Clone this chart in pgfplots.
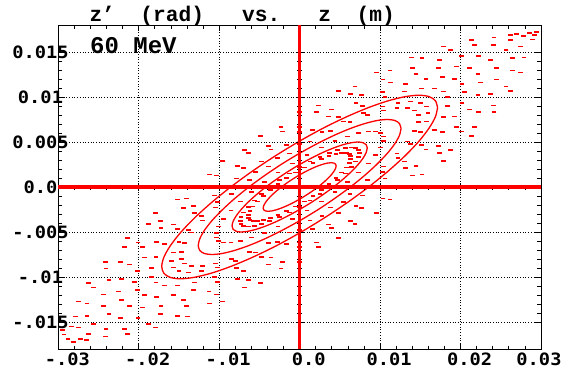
\documentclass[border=0pt]{standalone}
\usepackage{fontspec}
\usepackage{pgfplots}
\pgfplotsset{compat=1.18}
\newfontfamily\tickfontfam[FakeStretch=1.1]{DejaVu Sans Mono}
\newfontfamily\monofam{Liberation Mono}
\newcommand{\tickfont}{\tickfontfam\bfseries\fontsize{17}{17}\selectfont}
\newcommand{\titlefont}{\monofam\bfseries\fontsize{21.2}{22}\selectfont}
\newcommand{\mevfont}{\monofam\bfseries\fontsize{24}{25}\selectfont}
\begin{document}
\begin{tikzpicture}
\begin{axis}[
  name=main,
  scale only axis, width=482.7pt, height=324pt,
  xmin=-0.03, xmax=0.03, ymin=-0.018, ymax=0.018,
  xtick={-0.03,-0.02,-0.01,0,0.01,0.02,0.03},
  xticklabels={-.03,-.02,-.01,0.0,0.01,0.02,\hspace*{-22pt}0.03},
  ytick={-0.015,-0.01,-0.005,0,0.005,0.01,0.015},
  yticklabels={-.015,-.01,-.005,0.0,0.005,0.01,0.015},
  minor x tick num=4, minor y tick num=4,
  scaled ticks=false,
  tick align=inside,
  major tick length=6pt, minor tick length=3.5pt,
  tick style={black, line width=0.8pt},
  axis line style={black, line width=0.8pt},
  grid=major,
  major grid style={black, line width=0.7pt, dash pattern=on 0.7pt off 2pt},
  xticklabel style={font=\tickfont, xshift=9pt},
  yticklabel style={font=\tickfont, anchor=center, xshift=-17.8pt},
  sparse/.style={color=red, only marks, mark=-, mark size=2.4pt, mark options={draw=red, line width=1.7pt}},
  ring/.style={color=red, line width=1.3pt, smooth, mark=none},
]
% solid rings
\addplot[ring] coordinates {(4.536e-3,2.338e-3)(4.467e-3,2.068e-3)(4.262e-3,1.736e-3)(3.928e-3,1.350e-3)(3.475e-3,0.923e-3)(2.916e-3,0.469e-3)(2.268e-3,0)(1.551e-3,-0.469e-3)(0.787e-3,-0.923e-3)(0,-1.350e-3)(-0.787e-3,-1.736e-3)(-1.551e-3,-2.068e-3)(-2.268e-3,-2.338e-3)(-2.916e-3,-2.537e-3)(-3.475e-3,-2.659e-3)(-3.928e-3,-2.700e-3)(-4.262e-3,-2.659e-3)(-4.467e-3,-2.537e-3)(-4.536e-3,-2.338e-3)(-4.467e-3,-2.068e-3)(-4.262e-3,-1.736e-3)(-3.928e-3,-1.350e-3)(-3.475e-3,-0.923e-3)(-2.916e-3,-0.469e-3)(-2.268e-3,0)(-1.551e-3,0.469e-3)(-0.787e-3,0.923e-3)(0,1.350e-3)(0.787e-3,1.736e-3)(1.551e-3,2.068e-3)(2.268e-3,2.338e-3)(2.916e-3,2.537e-3)(3.475e-3,2.659e-3)(3.928e-3,2.700e-3)(4.262e-3,2.659e-3)(4.467e-3,2.537e-3)(4.536e-3,2.338e-3)};
\addplot[ring] coordinates {(8.40e-3,4.33e-3)(8.27e-3,3.83e-3)(7.89e-3,3.21e-3)(7.27e-3,2.50e-3)(6.43e-3,1.71e-3)(5.40e-3,0.87e-3)(4.20e-3,0)(2.87e-3,-0.87e-3)(1.46e-3,-1.71e-3)(0,-2.50e-3)(-1.46e-3,-3.21e-3)(-2.87e-3,-3.83e-3)(-4.20e-3,-4.33e-3)(-5.40e-3,-4.70e-3)(-6.43e-3,-4.92e-3)(-7.27e-3,-5.00e-3)(-7.89e-3,-4.92e-3)(-8.27e-3,-4.70e-3)(-8.40e-3,-4.33e-3)(-8.27e-3,-3.83e-3)(-7.89e-3,-3.21e-3)(-7.27e-3,-2.50e-3)(-6.43e-3,-1.71e-3)(-5.40e-3,-0.87e-3)(-4.20e-3,0)(-2.87e-3,0.87e-3)(-1.46e-3,1.71e-3)(0,2.50e-3)(1.46e-3,3.21e-3)(2.87e-3,3.83e-3)(4.20e-3,4.33e-3)(5.40e-3,4.70e-3)(6.43e-3,4.92e-3)(7.27e-3,5.00e-3)(7.89e-3,4.92e-3)(8.27e-3,4.70e-3)(8.40e-3,4.33e-3)};
\addplot[ring] coordinates {(12.60e-3,6.50e-3)(12.41e-3,5.75e-3)(11.84e-3,4.82e-3)(10.91e-3,3.75e-3)(9.65e-3,2.57e-3)(8.10e-3,1.30e-3)(6.30e-3,0)(4.31e-3,-1.30e-3)(2.19e-3,-2.57e-3)(0,-3.75e-3)(-2.19e-3,-4.82e-3)(-4.31e-3,-5.75e-3)(-6.30e-3,-6.50e-3)(-8.10e-3,-7.05e-3)(-9.65e-3,-7.39e-3)(-10.91e-3,-7.50e-3)(-11.84e-3,-7.39e-3)(-12.41e-3,-7.05e-3)(-12.60e-3,-6.50e-3)(-12.41e-3,-5.75e-3)(-11.84e-3,-4.82e-3)(-10.91e-3,-3.75e-3)(-9.65e-3,-2.57e-3)(-8.10e-3,-1.30e-3)(-6.30e-3,0)(-4.31e-3,1.30e-3)(-2.19e-3,2.57e-3)(0,3.75e-3)(2.19e-3,4.82e-3)(4.31e-3,5.75e-3)(6.30e-3,6.50e-3)(8.10e-3,7.05e-3)(9.65e-3,7.39e-3)(10.91e-3,7.50e-3)(11.84e-3,7.39e-3)(12.41e-3,7.05e-3)(12.60e-3,6.50e-3)};
\addplot[ring] coordinates {(17.14e-3,8.83e-3)(16.88e-3,7.81e-3)(16.10e-3,6.56e-3)(14.84e-3,5.10e-3)(13.13e-3,3.49e-3)(11.01e-3,1.77e-3)(8.57e-3,0)(5.86e-3,-1.77e-3)(2.97e-3,-3.49e-3)(0,-5.10e-3)(-2.97e-3,-6.56e-3)(-5.86e-3,-7.81e-3)(-8.57e-3,-8.83e-3)(-11.01e-3,-9.58e-3)(-13.13e-3,-10.04e-3)(-14.84e-3,-10.20e-3)(-16.10e-3,-10.04e-3)(-16.88e-3,-9.58e-3)(-17.14e-3,-8.83e-3)(-16.88e-3,-7.81e-3)(-16.10e-3,-6.56e-3)(-14.84e-3,-5.10e-3)(-13.13e-3,-3.49e-3)(-11.01e-3,-1.77e-3)(-8.57e-3,0)(-5.86e-3,1.77e-3)(-2.97e-3,3.49e-3)(0,5.10e-3)(2.97e-3,6.56e-3)(5.86e-3,7.81e-3)(8.57e-3,8.83e-3)(11.01e-3,9.58e-3)(13.13e-3,10.04e-3)(14.84e-3,10.20e-3)(16.10e-3,10.04e-3)(16.88e-3,9.58e-3)(17.14e-3,8.83e-3)};
% sparse rings
\addplot[sparse] coordinates {(6.36e-3,3.11e-3)(6.17e-3,2.69e-3)(5.79e-3,2.18e-3)(5.23e-3,1.61e-3)(4.51e-3,0.98e-3)(3.66e-3,0.33e-3)(2.70e-3,-0.33e-3)(1.65e-3,-0.98e-3)(0.56e-3,-1.61e-3)(-0.56e-3,-2.18e-3)(-1.65e-3,-2.69e-3)(-2.70e-3,-3.11e-3)(-3.66e-3,-3.44e-3)(-4.51e-3,-3.67e-3)(-5.23e-3,-3.79e-3)(-5.79e-3,-3.79e-3)(-6.17e-3,-3.67e-3)(-6.36e-3,-3.44e-3)(-6.36e-3,-3.11e-3)(-6.17e-3,-2.69e-3)(-5.79e-3,-2.18e-3)(-5.23e-3,-1.61e-3)(-4.51e-3,-0.98e-3)(-3.66e-3,-0.33e-3)(-2.70e-3,0.33e-3)(-1.65e-3,0.98e-3)(-0.56e-3,1.61e-3)(0.56e-3,2.18e-3)(1.65e-3,2.69e-3)(2.70e-3,3.11e-3)(3.66e-3,3.44e-3)(4.51e-3,3.67e-3)(5.23e-3,3.79e-3)(5.79e-3,3.79e-3)(6.17e-3,3.67e-3)(6.36e-3,3.44e-3)};
\addplot[sparse] coordinates {(7.39e-3,3.81e-3)(7.28e-3,3.37e-3)(6.95e-3,2.83e-3)(6.40e-3,2.20e-3)(5.66e-3,1.50e-3)(4.75e-3,0.76e-3)(3.70e-3,0)(2.53e-3,-0.76e-3)(1.28e-3,-1.50e-3)(0,-2.20e-3)(-1.28e-3,-2.83e-3)(-2.53e-3,-3.37e-3)(-3.70e-3,-3.81e-3)(-4.75e-3,-4.13e-3)(-5.66e-3,-4.33e-3)(-6.40e-3,-4.40e-3)(-6.95e-3,-4.33e-3)(-7.28e-3,-4.13e-3)(-7.39e-3,-3.81e-3)(-7.28e-3,-3.37e-3)(-6.95e-3,-2.83e-3)(-6.40e-3,-2.20e-3)(-5.66e-3,-1.50e-3)(-4.75e-3,-0.76e-3)(-3.70e-3,0)(-2.53e-3,0.76e-3)(-1.28e-3,1.50e-3)(0,2.20e-3)(1.28e-3,2.83e-3)(2.53e-3,3.37e-3)(3.70e-3,3.81e-3)(4.75e-3,4.13e-3)(5.66e-3,4.33e-3)(6.40e-3,4.40e-3)(6.95e-3,4.33e-3)(7.28e-3,4.13e-3)};
\addplot[sparse] coordinates {(10.38e-3,5.08e-3)(10.06e-3,4.38e-3)(9.44e-3,3.56e-3)(8.53e-3,2.62e-3)(7.36e-3,1.60e-3)(5.97e-3,0.54e-3)(4.40e-3,-0.54e-3)(2.70e-3,-1.60e-3)(0.91e-3,-2.62e-3)(-0.91e-3,-3.56e-3)(-2.70e-3,-4.38e-3)(-4.40e-3,-5.08e-3)(-5.97e-3,-5.62e-3)(-7.36e-3,-5.99e-3)(-8.53e-3,-6.18e-3)(-9.44e-3,-6.18e-3)(-10.06e-3,-5.99e-3)(-10.38e-3,-5.62e-3)(-10.38e-3,-5.08e-3)(-10.06e-3,-4.38e-3)(-9.44e-3,-3.56e-3)(-8.53e-3,-2.62e-3)(-7.36e-3,-1.60e-3)(-5.97e-3,-0.54e-3)(-4.40e-3,0.54e-3)(-2.70e-3,1.60e-3)(-0.91e-3,2.62e-3)(0.91e-3,3.56e-3)(2.70e-3,4.38e-3)(4.40e-3,5.08e-3)(5.97e-3,5.62e-3)(7.36e-3,5.99e-3)(8.53e-3,6.18e-3)(9.44e-3,6.18e-3)(10.06e-3,5.99e-3)(10.38e-3,5.62e-3)};
\addplot[sparse] coordinates {(14.73e-3,7.21e-3)(14.28e-3,6.22e-3)(13.40e-3,5.05e-3)(12.11e-3,3.72e-3)(10.45e-3,2.28e-3)(8.48e-3,0.77e-3)(6.25e-3,-0.77e-3)(3.83e-3,-2.28e-3)(1.29e-3,-3.72e-3)(-1.29e-3,-5.05e-3)(-3.83e-3,-6.22e-3)(-6.25e-3,-7.21e-3)(-8.48e-3,-7.98e-3)(-10.45e-3,-8.50e-3)(-12.11e-3,-8.77e-3)(-13.40e-3,-8.77e-3)(-14.28e-3,-8.50e-3)(-14.73e-3,-7.98e-3)(-14.73e-3,-7.21e-3)(-14.28e-3,-6.22e-3)(-13.40e-3,-5.05e-3)(-12.11e-3,-3.72e-3)(-10.45e-3,-2.28e-3)(-8.48e-3,-0.77e-3)(-6.25e-3,0.77e-3)(-3.83e-3,2.28e-3)(-1.29e-3,3.72e-3)(1.29e-3,5.05e-3)(3.83e-3,6.22e-3)(6.25e-3,7.21e-3)(8.48e-3,7.98e-3)(10.45e-3,8.50e-3)(12.11e-3,8.77e-3)(13.40e-3,8.77e-3)(14.28e-3,8.50e-3)(14.73e-3,7.98e-3)};
\addplot[sparse] coordinates {(15.96e-3,8.23e-3)(15.72e-3,7.28e-3)(15.00e-3,6.11e-3)(13.82e-3,4.75e-3)(12.23e-3,3.25e-3)(10.26e-3,1.65e-3)(7.98e-3,0)(5.46e-3,-1.65e-3)(2.77e-3,-3.25e-3)(0,-4.75e-3)(-2.77e-3,-6.11e-3)(-5.46e-3,-7.28e-3)(-7.98e-3,-8.23e-3)(-10.26e-3,-8.93e-3)(-12.23e-3,-9.36e-3)(-13.82e-3,-9.50e-3)(-15.00e-3,-9.36e-3)(-15.72e-3,-8.93e-3)(-15.96e-3,-8.23e-3)(-15.72e-3,-7.28e-3)(-15.00e-3,-6.11e-3)(-13.82e-3,-4.75e-3)(-12.23e-3,-3.25e-3)(-10.26e-3,-1.65e-3)(-7.98e-3,0)(-5.46e-3,1.65e-3)(-2.77e-3,3.25e-3)(0,4.75e-3)(2.77e-3,6.11e-3)(5.46e-3,7.28e-3)(7.98e-3,8.23e-3)(10.26e-3,8.93e-3)(12.23e-3,9.36e-3)(13.82e-3,9.50e-3)(15.00e-3,9.36e-3)(15.72e-3,8.93e-3)};
\addplot[sparse] coordinates {(18.41e-3,9.01e-3)(17.85e-3,7.78e-3)(16.75e-3,6.31e-3)(15.14e-3,4.65e-3)(13.07e-3,2.85e-3)(10.60e-3,0.96e-3)(7.81e-3,-0.96e-3)(4.78e-3,-2.85e-3)(1.61e-3,-4.65e-3)(-1.61e-3,-6.31e-3)(-4.78e-3,-7.78e-3)(-7.81e-3,-9.01e-3)(-10.60e-3,-9.97e-3)(-13.07e-3,-10.62e-3)(-15.14e-3,-10.96e-3)(-16.75e-3,-10.96e-3)(-17.85e-3,-10.62e-3)(-18.41e-3,-9.97e-3)(-18.41e-3,-9.01e-3)(-17.85e-3,-7.78e-3)(-16.75e-3,-6.31e-3)(-15.14e-3,-4.65e-3)(-13.07e-3,-2.85e-3)(-10.60e-3,-0.96e-3)(-7.81e-3,0.96e-3)(-4.78e-3,2.85e-3)(-1.61e-3,4.65e-3)(1.61e-3,6.31e-3)(4.78e-3,7.78e-3)(7.81e-3,9.01e-3)(10.60e-3,9.97e-3)(13.07e-3,10.62e-3)(15.14e-3,10.96e-3)(16.75e-3,10.96e-3)(17.85e-3,10.62e-3)(18.41e-3,9.97e-3)};
\addplot[sparse] coordinates {(20.50e-3,10.57e-3)(20.18e-3,9.35e-3)(19.26e-3,7.84e-3)(17.75e-3,6.10e-3)(15.70e-3,4.17e-3)(13.17e-3,2.12e-3)(10.25e-3,0)(7.01e-3,-2.12e-3)(3.56e-3,-4.17e-3)(0,-6.10e-3)(-3.56e-3,-7.84e-3)(-7.01e-3,-9.35e-3)(-10.25e-3,-10.57e-3)(-13.17e-3,-11.46e-3)(-15.70e-3,-12.01e-3)(-17.75e-3,-12.20e-3)(-19.26e-3,-12.01e-3)(-20.18e-3,-11.46e-3)(-20.50e-3,-10.57e-3)(-20.18e-3,-9.35e-3)(-19.26e-3,-7.84e-3)(-17.75e-3,-6.10e-3)(-15.70e-3,-4.17e-3)(-13.17e-3,-2.12e-3)(-10.25e-3,0)(-7.01e-3,2.12e-3)(-3.56e-3,4.17e-3)(0,6.10e-3)(3.56e-3,7.84e-3)(7.01e-3,9.35e-3)(10.25e-3,10.57e-3)(13.17e-3,11.46e-3)(15.70e-3,12.01e-3)(17.75e-3,12.20e-3)(19.26e-3,12.01e-3)(20.18e-3,11.46e-3)};
\addplot[sparse] coordinates {(22.51e-3,11.60e-3)(22.17e-3,10.26e-3)(21.15e-3,8.61e-3)(19.50e-3,6.70e-3)(17.24e-3,4.58e-3)(14.47e-3,2.33e-3)(11.26e-3,0)(7.70e-3,-2.33e-3)(3.91e-3,-4.58e-3)(0,-6.70e-3)(-3.91e-3,-8.61e-3)(-7.70e-3,-10.26e-3)(-11.26e-3,-11.60e-3)(-14.47e-3,-12.59e-3)(-17.24e-3,-13.20e-3)(-19.50e-3,-13.40e-3)(-21.15e-3,-13.20e-3)(-22.17e-3,-12.59e-3)(-22.51e-3,-11.60e-3)(-22.17e-3,-10.26e-3)(-21.15e-3,-8.61e-3)(-19.50e-3,-6.70e-3)(-17.24e-3,-4.58e-3)(-14.47e-3,-2.33e-3)(-11.26e-3,0)(-7.70e-3,2.33e-3)(-3.91e-3,4.58e-3)(0,6.70e-3)(3.91e-3,8.61e-3)(7.70e-3,10.26e-3)(11.26e-3,11.60e-3)(14.47e-3,12.59e-3)(17.24e-3,13.20e-3)(19.50e-3,13.40e-3)(21.15e-3,13.20e-3)(22.17e-3,12.59e-3)};
\addplot[sparse] coordinates {(24.43e-3,11.96e-3)(23.69e-3,10.32e-3)(22.23e-3,8.37e-3)(20.09e-3,6.17e-3)(17.34e-3,3.78e-3)(14.07e-3,1.27e-3)(10.37e-3,-1.27e-3)(6.35e-3,-3.78e-3)(2.14e-3,-6.17e-3)(-2.14e-3,-8.37e-3)(-6.35e-3,-10.32e-3)(-10.37e-3,-11.96e-3)(-14.07e-3,-13.23e-3)(-17.34e-3,-14.10e-3)(-20.09e-3,-14.55e-3)(-22.23e-3,-14.55e-3)(-23.69e-3,-14.10e-3)(-24.43e-3,-13.23e-3)(-24.43e-3,-11.96e-3)(-23.69e-3,-10.32e-3)(-22.23e-3,-8.37e-3)(-20.09e-3,-6.17e-3)(-17.34e-3,-3.78e-3)(-14.07e-3,-1.27e-3)(-10.37e-3,1.27e-3)(-6.35e-3,3.78e-3)(-2.14e-3,6.17e-3)(2.14e-3,8.37e-3)(6.35e-3,10.32e-3)(10.37e-3,11.96e-3)(14.07e-3,13.23e-3)(17.34e-3,14.10e-3)(20.09e-3,14.55e-3)(22.23e-3,14.55e-3)(23.69e-3,14.10e-3)(24.43e-3,13.23e-3)};
\addplot[sparse] coordinates {(26.44e-3,12.94e-3)(25.64e-3,11.17e-3)(24.06e-3,9.06e-3)(21.75e-3,6.68e-3)(18.77e-3,4.09e-3)(15.22e-3,1.38e-3)(11.22e-3,-1.38e-3)(6.87e-3,-4.09e-3)(2.31e-3,-6.68e-3)(-2.31e-3,-9.06e-3)(-6.87e-3,-11.17e-3)(-11.22e-3,-12.94e-3)(-15.22e-3,-14.32e-3)(-18.77e-3,-15.26e-3)(-21.75e-3,-15.74e-3)(-24.06e-3,-15.74e-3)(-25.64e-3,-15.26e-3)(-26.44e-3,-14.32e-3)(-26.44e-3,-12.94e-3)(-25.64e-3,-11.17e-3)(-24.06e-3,-9.06e-3)(-21.75e-3,-6.68e-3)(-18.77e-3,-4.09e-3)(-15.22e-3,-1.38e-3)(-11.22e-3,1.38e-3)(-6.87e-3,4.09e-3)(-2.31e-3,6.68e-3)(2.31e-3,9.06e-3)(6.87e-3,11.17e-3)(11.22e-3,12.94e-3)(15.22e-3,14.32e-3)(18.77e-3,15.26e-3)(21.75e-3,15.74e-3)(24.06e-3,15.74e-3)(25.64e-3,15.26e-3)(26.44e-3,14.32e-3)};
\addplot[sparse] coordinates {(27.89e-3,14.38e-3)(27.46e-3,12.72e-3)(26.21e-3,10.67e-3)(24.15e-3,8.30e-3)(21.36e-3,5.68e-3)(17.93e-3,2.88e-3)(13.94e-3,0)(9.54e-3,-2.88e-3)(4.84e-3,-5.68e-3)(0,-8.30e-3)(-4.84e-3,-10.67e-3)(-9.54e-3,-12.72e-3)(-13.94e-3,-14.38e-3)(-17.93e-3,-15.60e-3)(-21.36e-3,-16.35e-3)(-24.15e-3,-16.60e-3)(-26.21e-3,-16.35e-3)(-27.46e-3,-15.60e-3)(-27.89e-3,-14.38e-3)(-27.46e-3,-12.72e-3)(-26.21e-3,-10.67e-3)(-24.15e-3,-8.30e-3)(-21.36e-3,-5.68e-3)(-17.93e-3,-2.88e-3)(-13.94e-3,0)(-9.54e-3,2.88e-3)(-4.84e-3,5.68e-3)(0,8.30e-3)(4.84e-3,10.67e-3)(9.54e-3,12.72e-3)(13.94e-3,14.38e-3)(17.93e-3,15.60e-3)(21.36e-3,16.35e-3)(24.15e-3,16.60e-3)(26.21e-3,16.35e-3)(27.46e-3,15.60e-3)};
% corner clusters
\addplot[sparse] coordinates {(27.0e-3,17.0e-3)(27.8e-3,16.8e-3)(28.6e-3,17.1e-3)(29.2e-3,16.9e-3)(28.9e-3,16.4e-3)(26.2e-3,16.9e-3)(29.4e-3,17.2e-3)(-28.8e-3,-16.9e-3)(-29.3e-3,-16.4e-3)(-28.1e-3,-17.2e-3)(-27.2e-3,-16.9e-3)(-29.5e-3,-15.9e-3)(-28.4e-3,-15.5e-3)(-26.5e-3,-17.0e-3)};
\end{axis}
\begin{axis}[
  at={(main.south west)}, anchor=south west,
  scale only axis, width=482.7pt, height=324pt,
  xmin=-0.03, xmax=0.03, ymin=-0.018, ymax=0.018,
  axis lines=middle,
  axis line style={red, line width=3.3pt, -},
  xtick={-0.03,-0.02,-0.01,0,0.01,0.02,0.03},
  ytick={-0.015,-0.01,-0.005,0,0.005,0.01,0.015},
  minor x tick num=4, minor y tick num=4,
  scaled ticks=false,
  xticklabels={}, yticklabels={},
  tick label style={opacity=0},
  tick align=center,
  major tick length=8pt, minor tick length=5pt,
  tick style={black, line width=0.8pt},
]
\end{axis}
\node[anchor=base west, inner sep=0pt, font=\titlefont] at ([xshift=31pt, yshift=4pt]main.north west) {z’~~(rad)~~~vs.~~~z~~(m)};
\node[anchor=base west, inner sep=0pt, font=\mevfont] at ([xshift=31.7pt, yshift=-28.3pt]main.north west) {60~MeV};
\path (main.south west) ++(-58.3pt,-27pt) rectangle ++(568pt,376pt);
\end{tikzpicture}
\end{document}
